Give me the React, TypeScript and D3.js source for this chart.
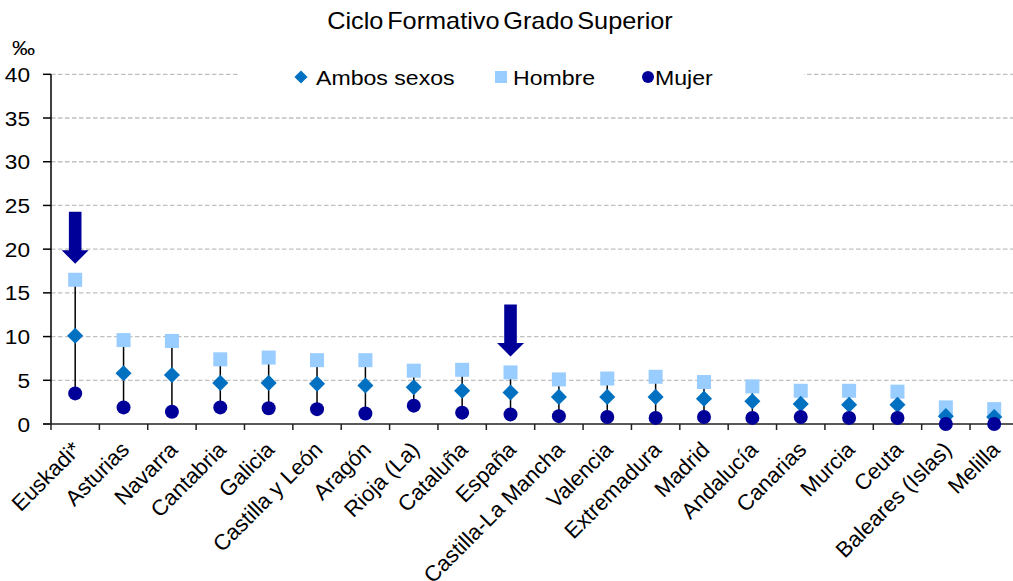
import React, { useEffect, useRef } from "react";
import * as d3 from "d3";

const categories = [
  "Euskadi*", "Asturias", "Navarra", "Cantabria", "Galicia", "Castilla y León",
  "Aragón", "Rioja (La)", "Cataluña", "España", "Castilla-La Mancha", "Valencia",
  "Extremadura", "Madrid", "Andalucía", "Canarias", "Murcia", "Ceuta",
  "Baleares (Islas)", "Melilla",
];
const ambos = [10.1, 5.8, 5.6, 4.7, 4.7, 4.6, 4.4, 4.2, 3.8, 3.6, 3.1, 3.1, 3.1, 2.9, 2.6, 2.3, 2.2, 2.2, 0.9, 0.8];
const hombre = [16.5, 9.6, 9.5, 7.4, 7.6, 7.3, 7.3, 6.1, 6.2, 5.9, 5.1, 5.2, 5.4, 4.8, 4.3, 3.8, 3.8, 3.7, 1.9, 1.7];
const mujer = [3.5, 1.9, 1.4, 1.9, 1.8, 1.7, 1.2, 2.1, 1.3, 1.1, 0.9, 0.8, 0.7, 0.8, 0.7, 0.8, 0.7, 0.7, 0.0, 0.0];
const yTicks = [0, 5, 10, 15, 20, 25, 30, 35, 40];
const highlighted = ["Euskadi*", "España"];
const legendItems = ["Ambos sexos", "Hombre", "Mujer"];
const title = "Ciclo Formativo Grado Superior";
const unit = "‰";

const W = 1013;
const H = 581;
const C_AMBOS = "#0070c0";
const C_HOMBRE = "#99ccff";
const C_MUJER = "#000099";
const FONT = "Arial, 'Liberation Sans', sans-serif";

export default function App() {
  const ref = useRef<SVGSVGElement | null>(null);

  useEffect(() => {
    const svg = d3.select(ref.current);
    svg.selectAll("*").remove();

    const x = d3.scaleBand<string>().domain(categories).range([51, 1018.4]).padding(0);
    const y = d3.scaleLinear().domain([0, 40]).range([424, 74.3]);
    const cx = (c: string) => (x(c) as number) + x.bandwidth() / 2;

    // gridlines
    svg.append("g")
      .selectAll("line")
      .data(yTicks.filter((t) => t > 0))
      .join("line")
      .attr("x1", 51)
      .attr("x2", W)
      .attr("y1", (d) => y(d))
      .attr("y2", (d) => y(d))
      .attr("stroke", "#c0c0c0")
      .attr("stroke-width", 1.3)
      .attr("stroke-dasharray", "4.5,2.5");

    // legend background (covers top gridline)
    svg.append("rect").attr("x", 239).attr("y", 60).attr("width", 565).attr("height", 34).attr("fill", "#fff");

    // title
    svg.append("g")
      .attr("transform", `translate(500,29) scale(1.1,1)`)
      .append("text")
      .attr("text-anchor", "middle")
      .attr("font-family", FONT)
      .attr("font-size", 23)
      .attr("word-spacing", -3)
      .attr("fill", "#000")
      .text(title);

    // unit
    svg.append("g")
      .attr("transform", "translate(12,55) scale(1.1,1)")
      .append("text")
      .attr("font-family", FONT)
      .attr("font-size", 21)
      .attr("fill", "#000")
      .text(unit);

    // y axis
    const yAxis = svg.append("g");
    yAxis.append("line").attr("x1", 51).attr("x2", 51).attr("y1", y(40)).attr("y2", 424).attr("stroke", "#000").attr("stroke-width", 1.5);
    yAxis.selectAll("line.tick")
      .data(yTicks)
      .join("line")
      .attr("class", "tick")
      .attr("x1", 43)
      .attr("x2", 51)
      .attr("y1", (d) => y(d))
      .attr("y2", (d) => y(d))
      .attr("stroke", "#000")
      .attr("stroke-width", 1.5);
    yAxis.selectAll("g.lbl")
      .data(yTicks)
      .join("g")
      .attr("class", "lbl")
      .attr("transform", (d) => `translate(30,${y(d) + 7.5}) scale(1.08,1)`)
      .append("text")
      .attr("text-anchor", "end")
      .attr("font-family", FONT)
      .attr("font-size", 21)
      .attr("fill", "#000")
      .text((d) => String(d));

    // x axis
    const xAxis = svg.append("g");
    xAxis.append("line").attr("x1", 43).attr("x2", W).attr("y1", 424).attr("y2", 424).attr("stroke", "#222").attr("stroke-width", 1.5);
    const bounds = categories.map((c) => x(c) as number).concat([x.range()[1]]);
    xAxis.selectAll("line.tick")
      .data(bounds)
      .join("line")
      .attr("class", "tick")
      .attr("x1", (d) => d)
      .attr("x2", (d) => d)
      .attr("y1", 424)
      .attr("y2", 430)
      .attr("stroke", "#222")
      .attr("stroke-width", 1.5);
    xAxis.selectAll("text")
      .data(categories)
      .join("text")
      .attr("text-anchor", "end")
      .attr("font-family", FONT)
      .attr("font-size", 22)
      .attr("fill", "#000")
      .attr("transform", (c) => `translate(${cx(c) + 7},${451}) rotate(-45)`)
      .text((c) => c);

    // connectors
    svg.append("g")
      .selectAll("line")
      .data(categories)
      .join("line")
      .attr("x1", (c) => cx(c))
      .attr("x2", (c) => cx(c))
      .attr("y1", (_, i) => y(Math.max(hombre[i], mujer[i], ambos[i])))
      .attr("y2", (_, i) => y(Math.min(hombre[i], mujer[i], ambos[i])))
      .attr("stroke", "#000")
      .attr("stroke-width", 1.5);

    // hombre squares
    const sq = 14;
    svg.append("g")
      .selectAll("rect")
      .data(categories)
      .join("rect")
      .attr("x", (c) => cx(c) - sq / 2)
      .attr("y", (_, i) => y(hombre[i]) - sq / 2)
      .attr("width", sq)
      .attr("height", sq)
      .attr("fill", C_HOMBRE);

    // ambos diamonds
    const diamond = d3.symbol().type(d3.symbolDiamond2).size(165);
    svg.append("g")
      .selectAll("path")
      .data(categories)
      .join("path")
      .attr("d", diamond() as string)
      .attr("transform", (c, i) => `translate(${cx(c)},${y(ambos[i])})`)
      .attr("fill", C_AMBOS);

    // mujer circles
    svg.append("g")
      .selectAll("circle")
      .data(categories)
      .join("circle")
      .attr("cx", (c) => cx(c))
      .attr("cy", (_, i) => y(mujer[i]))
      .attr("r", 7)
      .attr("fill", C_MUJER);

    // arrows
    svg.append("g")
      .selectAll("path")
      .data(highlighted)
      .join("path")
      .attr("transform", (c) => {
        const i = categories.indexOf(c);
        return `translate(${cx(c)},${y(hombre[i]) - 16})`;
      })
      .attr("d", "M-6.3,-52 L6.3,-52 L6.3,-13.5 L13.5,-13.5 L0,0 L-13.5,-13.5 L-6.3,-13.5 Z")
      .attr("fill", C_MUJER);

    // legend
    const lg = svg.append("g");
    lg.append("path").attr("d", d3.symbol().type(d3.symbolDiamond2).size(110)() as string).attr("transform", "translate(301,77)").attr("fill", C_AMBOS);
    lg.append("rect").attr("x", 495).attr("y", 71).attr("width", 12).attr("height", 12).attr("fill", C_HOMBRE);
    lg.append("circle").attr("cx", 648).attr("cy", 77).attr("r", 6).attr("fill", C_MUJER);
    const lx = [316, 513, 655];
    legendItems.forEach((t, i) => {
      lg.append("g")
        .attr("transform", `translate(${lx[i]},84.5) scale(1.1,1)`)
        .append("text")
        .attr("font-family", FONT)
        .attr("font-size", 21)
        .attr("fill", "#000")
        .text(t);
    });
  }, []);

  return (
    <div style={{ position: "absolute", left: 0, top: 0 }}>
      <svg ref={ref} width={W} height={H} style={{ display: "block", background: "#fff" }} />
    </div>
  );
}
